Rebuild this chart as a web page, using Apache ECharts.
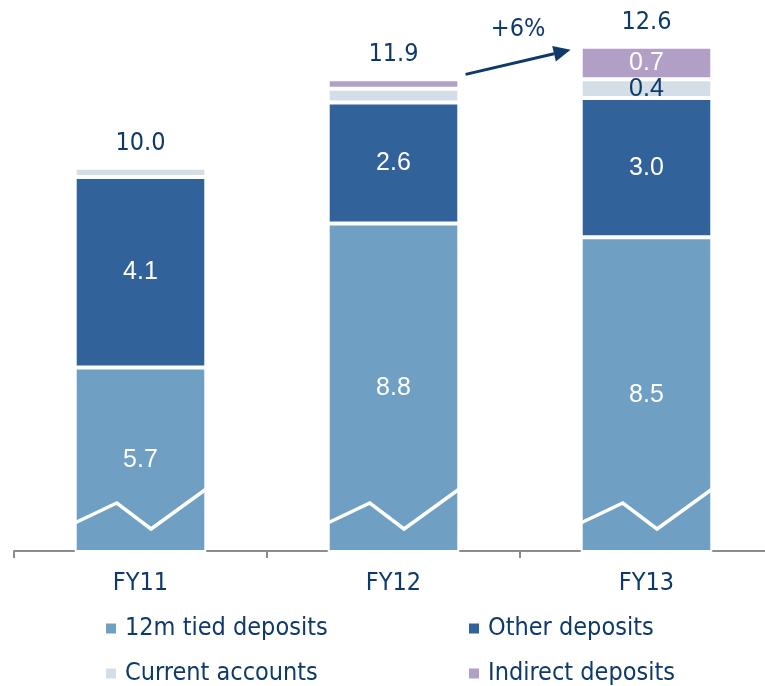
<!DOCTYPE html>
<html>
<head>
<meta charset="utf-8">
<style>
  html, body { margin: 0; padding: 0; background: #fff; }
  #main { width: 765px; height: 686px; }
</style>
</head>
<body>
<div id="main"></div>
<script src="https://cdn.jsdelivr.net/npm/echarts@6/dist/echarts.min.js"></script>
<script type="text/javascript">
    // data
    var years = ['FY11', 'FY12', 'FY13'];
    var tied = [5.7, 8.8, 8.5];
    var other = [4.1, 2.6, 3.0];
    var current = [0.2, 0.3, 0.4];
    var indirect = [0, 0.2, 0.7];
    var totals = [10.0, 11.9, 12.6];
    var growth = '+6%';

    var navy = '#0d3a6b';
    var font = '"DejaVu Sans Condensed", "DejaVu Sans", sans-serif';
    var numFont = '"Liberation Sans", Arial, sans-serif';
    var yMin = 1.75;

    var myChart = echarts.init(document.getElementById('main'));

    function segLabel(color) {
        return {
            show: true,
            position: 'inside',
            color: color,
            fontSize: 25,
            fontFamily: numFont,
            formatter: function (p) { return p.value >= 0.4 ? p.value.toFixed(1) : ''; }
        };
    }

    function legendItem(name, left, top) {
        return {
            data: [name],
            left: left,
            top: top,
            padding: 0,
            icon: 'rect',
            itemWidth: 12,
            itemHeight: 12,
            selectedMode: false,
            textStyle: { color: navy, fontSize: 25, fontFamily: font, padding: [0, 0, 0, 3] }
        };
    }

    var option = {
        animation: false,
        grid: { left: 14, top: 5, width: 759, height: 546, outerBoundsMode: 'none' },
        legend: [
            legendItem('12m tied deposits', 104, 616),
            legendItem('Other deposits', 467, 616),
            legendItem('Current accounts', 104, 661),
            legendItem('Indirect deposits', 467, 661)
        ],
        xAxis: {
            type: 'category',
            data: years,
            axisLine: { lineStyle: { color: '#8c8c8c', width: 2 } },
            axisTick: { show: true, length: 7, lineStyle: { color: '#8c8c8c', width: 2 } },
            axisLabel: { color: navy, fontSize: 25, fontFamily: font, margin: 20 }
        },
        yAxis: {
            type: 'value',
            min: yMin,
            max: 13.5,
            show: false,
            splitLine: { show: false }
        },
        series: [
            {
                name: '12m tied deposits', type: 'bar', stack: 'dep', barWidth: '52%',
                itemStyle: { color: '#6fa0c4', borderColor: '#fff', borderWidth: 2 },
                label: segLabel('#fff'),
                data: tied
            },
            {
                name: 'Other deposits', type: 'bar', stack: 'dep',
                itemStyle: { color: '#31629a', borderColor: '#fff', borderWidth: 2 },
                label: segLabel('#fff'),
                data: other
            },
            {
                name: 'Current accounts', type: 'bar', stack: 'dep',
                itemStyle: { color: '#d3dee6', borderColor: '#fff', borderWidth: 2 },
                label: segLabel(navy),
                data: current
            },
            {
                name: 'Indirect deposits', type: 'bar', stack: 'dep',
                itemStyle: { color: '#b19fc6', borderColor: '#fff', borderWidth: 2 },
                label: segLabel('#fff'),
                data: indirect
            },
            {
                // totals above the bars
                type: 'scatter', symbolSize: 0, silent: true,
                itemStyle: { opacity: 1 },
                label: {
                    show: true, position: 'top', distance: 12,
                    color: navy, fontSize: 25, fontFamily: font,
                    formatter: function (p) { return p.value.toFixed(1); }
                },
                data: totals
            },
            {
                // axis break zigzag drawn inside each bar
                type: 'custom', silent: true, z: 5,
                renderItem: function (params, api) {
                    var base = api.coord([api.value(0), yMin]);
                    var w = api.size([1, 0])[0] * 0.52;
                    var x0 = base[0] - w / 2;
                    var y0 = base[1];
                    return {
                        type: 'polyline',
                        shape: { points: [
                            [x0, y0 - 28], [x0 + w * 0.32, y0 - 48],
                            [x0 + w * 0.58, y0 - 22], [x0 + w, y0 - 62]
                        ] },
                        style: { stroke: '#fff', lineWidth: 3.5, fill: null }
                    };
                },
                data: [0, 1, 2]
            }
        ]
    };

    myChart.setOption(option);

    // growth arrow between FY12 and FY13 tops
    var p1 = myChart.convertToPixel({ gridIndex: 0 }, [1, totals[1]]);
    var p2 = myChart.convertToPixel({ gridIndex: 0 }, [2, totals[2]]);
    var band = p2[0] - p1[0];
    var sx = p1[0] + band * 0.285, sy = p1[1] - 5;
    var ex = p2[0] - band * 0.3, ey = p2[1] + 3;
    var ang = Math.atan2(ey - sy, ex - sx);
    var hl = 17, hw = 8;
    var bx = ex - hl * Math.cos(ang), by = ey - hl * Math.sin(ang);
    myChart.setOption({
        graphic: [
            { type: 'line', shape: { x1: sx, y1: sy, x2: bx, y2: by }, style: { stroke: navy, lineWidth: 3 } },
            { type: 'polygon', shape: { points: [
                [ex, ey],
                [bx + hw * Math.sin(ang), by - hw * Math.cos(ang)],
                [bx - hw * Math.sin(ang), by + hw * Math.cos(ang)]
            ] }, style: { fill: navy } },
            { type: 'text', x: (sx + ex) / 2, y: Math.min(sy, ey) - 20, style: {
                text: growth, fill: navy, fontSize: 25, fontFamily: font, align: 'center', verticalAlign: 'middle'
            } }
        ]
    });
</script>
</body>
</html>
